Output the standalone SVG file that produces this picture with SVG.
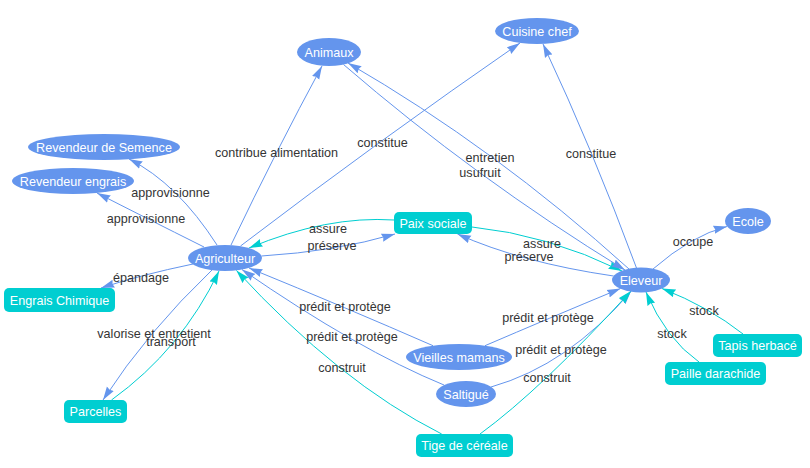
<svg xmlns="http://www.w3.org/2000/svg" width="810" height="468" viewBox="0 0 810 468">
<style>
text{font-family:"Liberation Sans",Arial,sans-serif;font-size:12.6px;text-anchor:middle}
.nl{fill:#ffffff}
.el{fill:#343434}
.en{fill:#6495ED}
.bx{fill:#00CED1}
.eb{fill:none;stroke:#6495ED;stroke-width:1;marker-end:url(#ab)}
.ec{fill:none;stroke:#00CED1;stroke-width:1;marker-end:url(#ac)}
</style>
<defs>
<marker id="ab" markerUnits="userSpaceOnUse" markerWidth="14" markerHeight="10" refX="13.5" refY="4.5" orient="auto"><path d="M0,0.4 L13.5,4.5 L0,8.6 L1.35,4.5 z" fill="#6495ED"/></marker>
<marker id="ac" markerUnits="userSpaceOnUse" markerWidth="14" markerHeight="10" refX="13.5" refY="4.5" orient="auto"><path d="M0,0.4 L13.5,4.5 L0,8.6 L1.35,4.5 z" fill="#00CED1"/></marker>
</defs>
<rect width="810" height="468" fill="#ffffff"/>
<g id="connectors">
<path class="eb" d="M217,245 Q177.5,183.5 129,159"/>
<path class="eb" d="M204,247 Q143,216.5 97,193"/>
<path class="eb" d="M193,264 Q140,275 101,288"/>
<path class="eb" d="M231,245 Q277,149 322,66"/>
<path class="eb" d="M240.5,246 Q383,137.5 520,43"/>
<path class="ec" d="M394,220 Q327,215.5 249,248"/>
<path class="eb" d="M261.5,256 Q335,251.5 395,234"/>
<path class="ec" d="M472,227 Q547,234.5 622,271"/>
<path class="eb" d="M613.5,276 Q521,262.5 457.5,234"/>
<path class="eb" d="M629,269 Q495,148 348,63"/>
<path class="eb" d="M343.5,64.5 Q475,178 625,270"/>
<path class="eb" d="M636.5,268 Q593,150.5 543,44"/>
<path class="eb" d="M653,269 Q691.5,235.5 727,226.5"/>
<path class="ec" d="M743,334 Q709,307 662,288.5"/>
<path class="ec" d="M699,362 Q666,339 646,292"/>
<path class="eb" d="M212,270 Q147.75,331.25 103,400"/>
<path class="ec" d="M111.5,400 Q181.75,349.25 219,271"/>
<path class="eb" d="M433,345.7 Q348,308.5 249,268"/>
<path class="eb" d="M485,345.7 Q546,319.5 620.5,288.5"/>
<path class="eb" d="M444,385 Q358.5,350 242,269.6"/>
<path class="eb" d="M491,387 Q568.5,365 631,291.3"/>
<path class="ec" d="M441.7,434 Q339.25,382.25 236.4,270.4"/>
<path class="ec" d="M480,434 Q541.25,389.25 631,291"/>
<text class="el" x="170.5" y="197.3">approvisionne</text>
<text class="el" x="146" y="222.5">approvisionne</text>
<text class="el" x="141" y="281.5">épandage</text>
<text class="el" x="276.5" y="157">contribue alimentation</text>
<text class="el" x="382.5" y="147">constitue</text>
<text class="el" x="328" y="233">assure</text>
<text class="el" x="332" y="249.5">préserve</text>
<text class="el" x="542" y="248">assure</text>
<text class="el" x="529" y="260.5">préserve</text>
<text class="el" x="490" y="162">entretien</text>
<text class="el" x="480" y="177">usufruit</text>
<text class="el" x="591" y="158">constitue</text>
<text class="el" x="693" y="246">occupe</text>
<text class="el" x="704" y="315">stock</text>
<text class="el" x="672" y="338">stock</text>
<text class="el" x="154" y="338">valorise et entretient</text>
<text class="el" x="171" y="345.5">transport</text>
<text class="el" x="345" y="311">prédit et protège</text>
<text class="el" x="548" y="322">prédit et protège</text>
<text class="el" x="352" y="341">prédit et protège</text>
<text class="el" x="561" y="354">prédit et protège</text>
<text class="el" x="342" y="371.5">construit</text>
<text class="el" x="547" y="381.5">construit</text>
</g>
<g id="n-animaux"><ellipse class="en" cx="329" cy="52" rx="32" ry="14"/><text class="nl" x="329" y="56.5">Animaux</text></g>
<g id="n-cuisine"><ellipse class="en" cx="537" cy="31" rx="42" ry="13"/><text class="nl" x="537" y="35.5">Cuisine chef</text></g>
<g id="n-semence"><ellipse class="en" cx="104" cy="147" rx="76" ry="13"/><text class="nl" x="104" y="151.5">Revendeur de Semence</text></g>
<g id="n-revengrais"><ellipse class="en" cx="73" cy="181" rx="61" ry="13"/><text class="nl" x="73" y="185.5">Revendeur engrais</text></g>
<g id="n-agriculteur"><ellipse class="en" cx="225" cy="258" rx="37" ry="13"/><text class="nl" x="225" y="262.5">Agriculteur</text></g>
<g id="n-eleveur"><ellipse class="en" cx="641" cy="280" rx="29" ry="12.5"/><text class="nl" x="641" y="284.5">Eleveur</text></g>
<g id="n-ecole"><ellipse class="en" cx="748" cy="221" rx="23" ry="13"/><text class="nl" x="748" y="225.5">Ecole</text></g>
<g id="n-vieilles"><ellipse class="en" cx="459" cy="357" rx="53" ry="13"/><text class="nl" x="459" y="361.5">Vieilles mamans</text></g>
<g id="n-saltigue"><ellipse class="en" cx="466" cy="394" rx="30" ry="13"/><text class="nl" x="466" y="398.5">Saltigué</text></g>
<g id="n-chimique"><rect class="bx" x="4" y="288" width="111" height="24" rx="5"/><text class="nl" x="59.5" y="304.5">Engrais Chimique</text></g>
<g id="n-paix"><rect class="bx" x="394" y="212" width="78" height="22" rx="5"/><text class="nl" x="433" y="227.5">Paix sociale</text></g>
<g id="n-parcelles"><rect class="bx" x="64" y="400" width="63" height="23" rx="5"/><text class="nl" x="95.5" y="416">Parcelles</text></g>
<g id="n-tapis"><rect class="bx" x="713" y="334" width="89" height="23" rx="5"/><text class="nl" x="757.5" y="350">Tapis herbacé</text></g>
<g id="n-paille"><rect class="bx" x="665" y="362" width="101" height="23" rx="5"/><text class="nl" x="715.5" y="378">Paille darachide</text></g>
<g id="n-tige"><rect class="bx" x="416" y="434" width="97" height="23" rx="5"/><text class="nl" x="464.5" y="450">Tige de céréale</text></g>
</svg>
